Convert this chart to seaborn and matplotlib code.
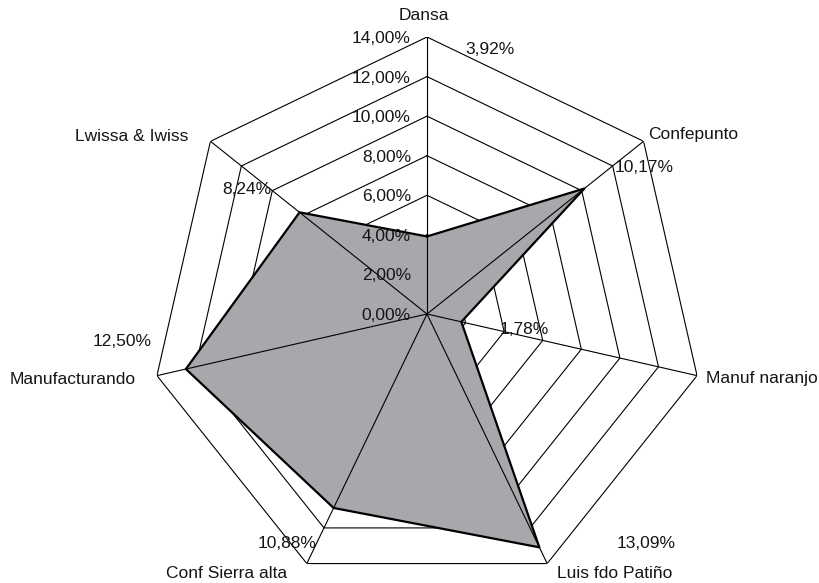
import numpy as np
import pandas as pd
import matplotlib
matplotlib.use("Agg")
import matplotlib.pyplot as plt
import seaborn as sns

# Share of each company (percent)
categories = ["Dansa", "Confepunto", "Manuf naranjo", "Luis fdo Patiño",
              "Conf Sierra alta", "Manufacturando", "Lwissa & Iwiss"]
values = [3.92, 10.17, 1.78, 13.09, 10.88, 12.50, 8.24]
ring_ticks = [0, 2, 4, 6, 8, 10, 12, 14]

def pct(v):
    return f"{v:.2f}%".replace(".", ",")

sns.set_style("white")
plt.rcParams["font.family"] = ["Liberation Sans", "DejaVu Sans"]

W, H = 820, 583
fig = plt.figure(figsize=(W / 100, H / 100), dpi=100)
cx, cy, R = 427, 314, 277
ax = fig.add_axes([(cx - R) / W, (H - cy - R) / H, 2 * R / W, 2 * R / H],
                  projection="polar")
ax.set_theta_offset(np.pi / 2)
ax.set_theta_direction(-1)
ax.set_ylim(0, ring_ticks[-1])
ax.grid(False)
ax.spines["polar"].set_visible(False)
ax.set_xticks([])
ax.set_yticks([])
ax.patch.set_alpha(0)

n = len(categories)
angles = np.arange(n) * 2 * np.pi / n
closed_ang = np.append(angles, angles[0])

df = pd.DataFrame({"angle": closed_ang, "value": values + values[:1]})

# polygonal rings (behind the filled area)
for r in ring_ticks[1:]:
    ax.plot(closed_ang, [r] * (n + 1), color="black", lw=0.8, zorder=1)

# filled data polygon
ax.fill(df["angle"], df["value"], color="#a7a8ab", zorder=2, linewidth=0)

# spokes drawn over the fill
for a in angles:
    ax.plot([a, a], [0, ring_ticks[-1]], color="black", lw=0.8, zorder=3)

# data outline
sns.lineplot(data=df, x="angle", y="value", sort=False, estimator=None,
             color="black", lw=1.6, ax=ax, zorder=4)
ax.set_xlabel("")
ax.set_ylabel("")

fs = 12.5
def put(px, py, s, ha="center"):
    fig.text(px / W, 1 - py / H, s, ha=ha, va="center", fontsize=fs,
             color="#151515", zorder=5)

# radial scale labels
for r in ring_ticks:
    py = cy - R * r / ring_ticks[-1] + 1.5
    put(411, py, pct(r), ha="right")

# category labels
cat_pos = [(424, 16), (693, 135), (762, 378), (615, 574),
           (227, 574), (73, 379), (132, 136)]
for (px, py), name in zip(cat_pos, categories):
    put(px, py, name)

# value labels
val_pos = [(490, 50), (644, 168), (524, 330), (646, 543),
           (287, 543), (122, 341), (247, 190)]
for (px, py), v in zip(val_pos, values):
    put(px, py, pct(v))

fig.savefig("out.png", dpi=100)
